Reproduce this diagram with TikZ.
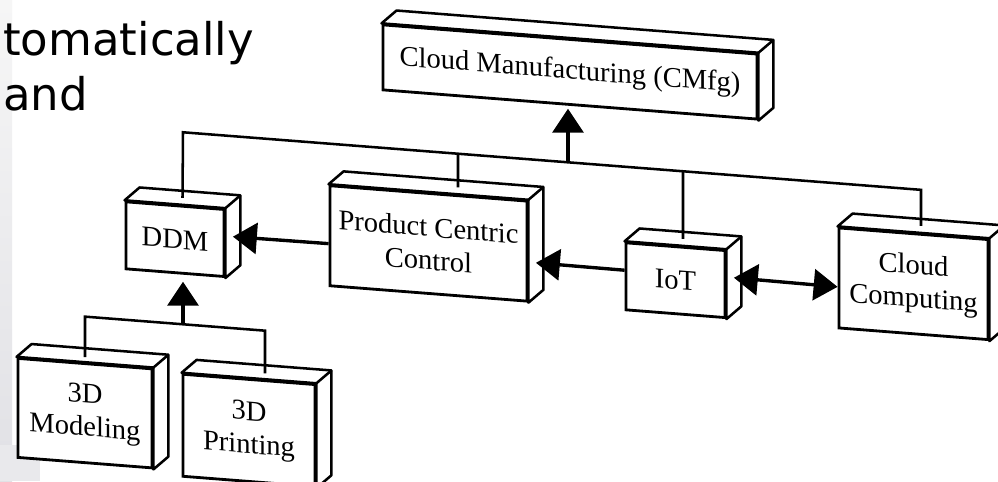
\documentclass[tikz,border=0pt]{standalone}
\usepackage{fontspec}
\setmainfont{Liberation Serif}
\newfontfamily\slidefont{DejaVu Sans}
\usetikzlibrary{arrows.meta,calc}

\tikzset{
  block/.style={draw, fill=white, line width=2pt, align=center, inner sep=0pt,
    font=\fontsize{20.3}{23.5}\selectfont},
  bus/.style={line width=1.8pt},
  arr/.style={line width=2.4pt, -{Triangle[width=22pt,length=17pt]}},
  dblarr/.style={line width=2.4pt, {Triangle[width=22pt,length=17pt]}-{Triangle[width=22pt,length=17pt]}},
}

% top and right faces of a block
\newcommand{\blockdepth}[1]{%
  \draw[line width=1.8pt, fill=white, line join=round] (#1.north west) -- ++(15,-14)
    -- ([shift={(15,-14)}]#1.north east) -- ([shift={(15,-14)}]#1.south east)
    -- (#1.south east) -- (#1.north east) -- cycle;
  \draw[line width=1.8pt] (#1.north east) -- ++(15,-14);%
}

\begin{document}
\begin{tikzpicture}[x=0.025cm, y=-0.025cm]
    \useasboundingbox (0,0) rectangle (998,481);
    \fill[white] (0,0) rectangle (998,481);
    \shade[top color=gray!7, bottom color=blue!8!gray!22] (0,0) rectangle (12,481);
    \fill[blue!6!gray!16] (0,445) rectangle (40,481);

    % slide text
    \node[font=\slidefont\fontsize{32}{38}\selectfont, anchor=base west, inner sep=0pt] (line1) at (3,55) {tomatically};
    \node[font=\slidefont\fontsize{32}{38}\selectfont, anchor=base west, inner sep=0pt] (line2) at (3,110) {and};

    \begin{scope}[yslant=-0.078, transform shape]

        % Defining the blocks
        \node[block, minimum width=9.35cm, minimum height=1.625cm] (cmfg) at (570,27.5) {Cloud Manufacturing (CMfg)};
        \node[block, minimum width=2.45cm, minimum height=1.675cm] (ddm) at (175,225.5) {DDM};
        \node[block, minimum width=4.925cm, minimum height=2.5cm] (pcc) at (428.5,210) {Product Centric\\Control};
        \node[block, minimum width=2.475cm, minimum height=1.675cm] (iot) at (675.5,227.5) {IoT};
        \node[block, minimum width=3.725cm, minimum height=2.5cm] (cloud) at (913.5,212.5) {Cloud\\Computing};
        \node[block, minimum width=3.35cm, minimum height=2.475cm] (modeling) at (85,406.5) {3D\\Modeling};
        \node[block, minimum width=3.3cm, minimum height=2.55cm] (printing) at (249,411) {3D\\Printing};

        \foreach \b in {cmfg,ddm,pcc,iot,cloud,modeling,printing}{
            \blockdepth{\b}
        }

        % Bus below CMfg
        \coordinate (b1) at (183,118);
        \coordinate (b2) at (458,118);
        \coordinate (hub) at (568,118);
        \coordinate (b3) at (683,118);
        \coordinate (b4) at (921,118);
        \draw[bus] ([shift={(7.5,-7)}]ddm.north) -- (b1) -- (b4) -- ([shift={(7.5,-7)}]cloud.north);
        \draw[bus] (b2) -- ([shift={(29.5,-7)}]pcc.north);
        \draw[bus] (b3) -- ([shift={(7.5,-7)}]iot.north);
        \draw[arr] (hub) -- ([shift={(-2,3)}]cmfg.south);

        % Horizontal links
        \draw[arr] ([shift={(0,8)}]pcc.west) -- ([shift={(7.5,-7)}]ddm.east);
        \draw[arr] ([shift={(0,-6)}]iot.west) -- ([shift={(7.5,11)}]pcc.east);
        \draw[dblarr] ([shift={(7.5,-7)}]iot.east) -- ([shift={(0,9)}]cloud.west);

        % 3D blocks feeding DDM
        \coordinate (j) at (183,310);
        \coordinate (jl) at (85,310);
        \coordinate (jr) at (265,310);
        \draw[bus] ([shift={(0,-5)}]modeling.north) -- (jl) -- (jr) -- ([shift={(16,-6)}]printing.north);
        \draw[arr] (j) -- ([shift={(8,7)}]ddm.south);

    \end{scope}
\end{tikzpicture}
\end{document}
